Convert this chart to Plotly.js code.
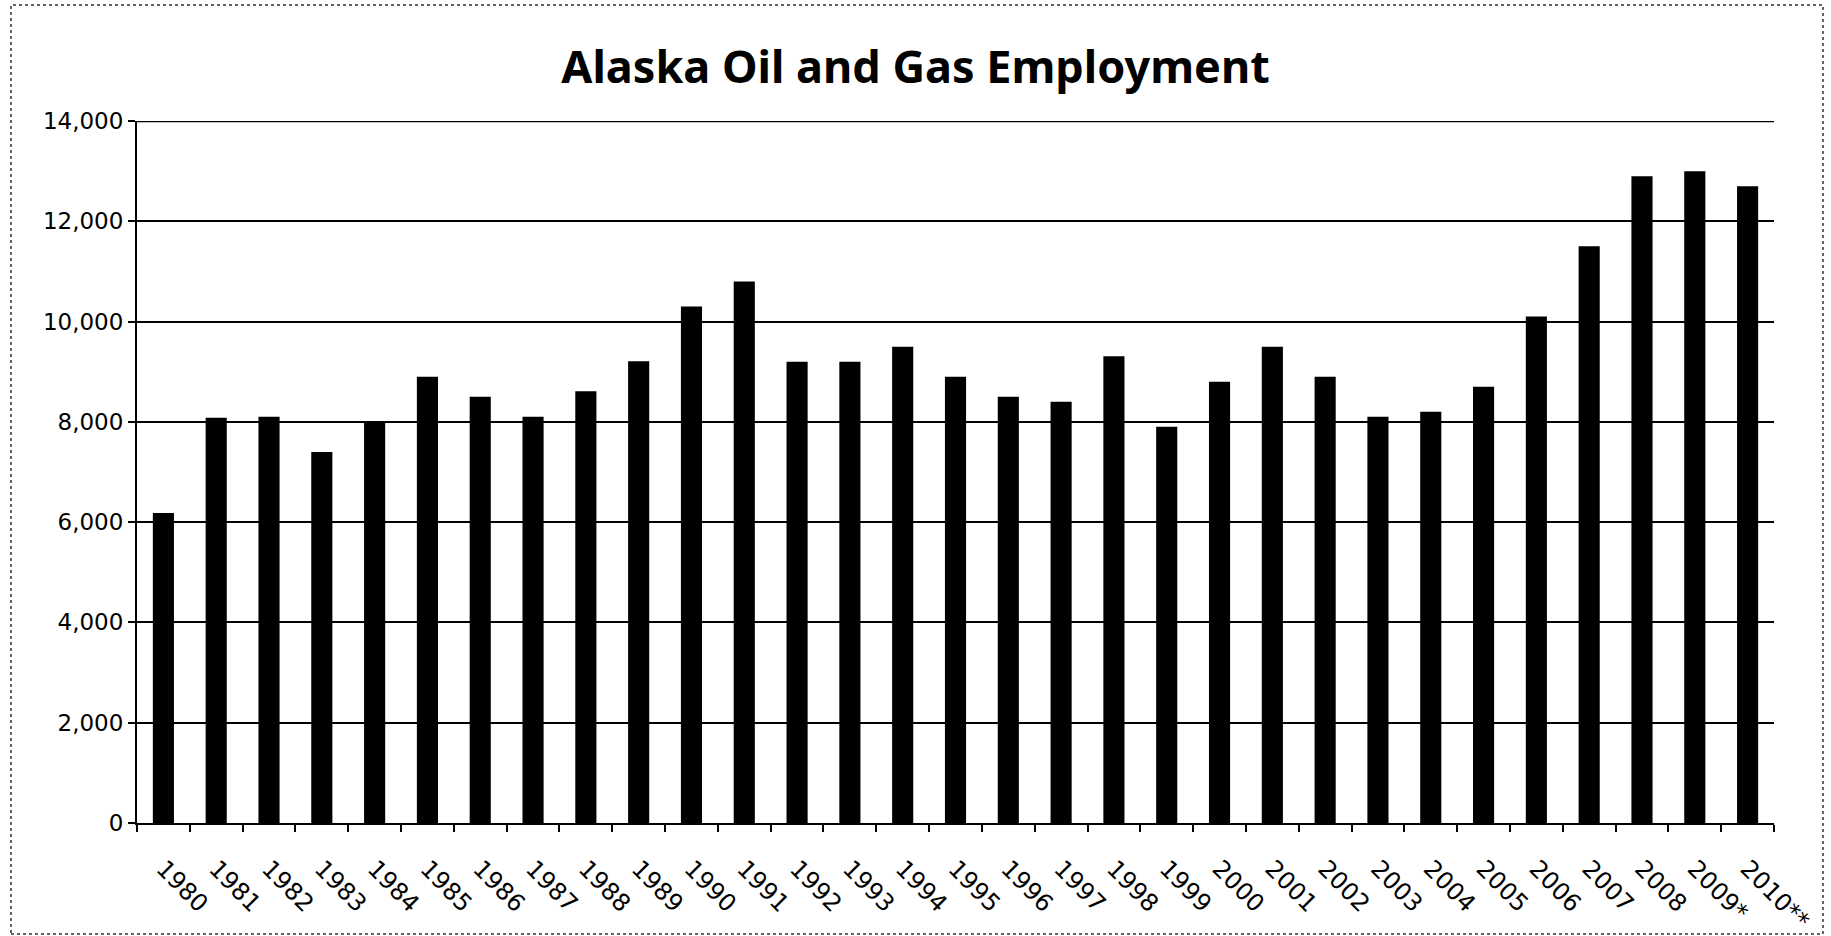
<!DOCTYPE html>
<html>
<head>
<meta charset="utf-8">
<script src="https://cdn.plot.ly/plotly-3.0.1.min.js"></script>
<style>html,body{margin:0;padding:0;background:#fff;}#chart{width:1831px;height:936px;}</style>
</head>
<body>
<div id="chart"></div>
<script>
const years = ['1980','1981','1982','1983','1984','1985','1986','1987','1988','1989','1990','1991','1992','1993','1994','1995','1996','1997','1998','1999','2000','2001','2002','2003','2004','2005','2006','2007','2008','2009*','2010**'];
const employment = [6180, 8080, 8100, 7400, 8000, 8900, 8500, 8100, 8610, 9210, 10300, 10800, 9200, 9200, 9500, 8900, 8500, 8400, 9310, 7900, 8800, 9500, 8900, 8100, 8200, 8700, 10100, 11500, 12900, 13000, 12700];
const yTicks = [0, 2000, 4000, 6000, 8000, 10000, 12000, 14000];

const W = 1831, H = 936;
const m = {l: 137, r: 57, t: 121, b: 113};
const pw = W - m.l - m.r, ph = H - m.t - m.b;
function px2x(p){ return (p - m.l) / pw; }
function px2y(p){ return (H - m.b - p) / ph; }

const axisFont = {family: 'DejaVu Sans, sans-serif', size: 23, color: '#000'};
const yMax = yTicks[yTicks.length - 1];

Plotly.newPlot('chart', [{
  type: 'bar',
  x: years,
  y: employment,
  marker: {color: '#000', line: {width: 0}},
  hoverinfo: 'x+y'
}], {
  width: W, height: H,
  margin: m,
  paper_bgcolor: '#fff',
  plot_bgcolor: '#fff',
  bargap: 0.6,
  showlegend: false,
  title: {
    text: '<b>Alaska Oil and Gas Employment</b>',
    font: {family: 'Noto Sans, sans-serif', size: 45, color: '#000'},
    x: 0.5, xref: 'container', xanchor: 'center',
    y: 1 - 67 / H, yref: 'container', yanchor: 'middle'
  },
  xaxis: {
    type: 'category',
    tickangle: 45,
    tickson: 'boundaries',
    ticks: 'outside', ticklen: 7, tickwidth: 2, tickcolor: '#000',
    ticklabelstandoff: 20,
    showline: true, linecolor: '#000', linewidth: 2,
    showgrid: false,
    tickfont: {family: 'DejaVu Sans, sans-serif', size: 24, color: '#000'}
  },
  yaxis: {
    range: [0, yMax],
    tickvals: yTicks,
    tickformat: ',d',
    ticks: 'outside', ticklen: 7, tickwidth: 2, tickcolor: '#000',
    showline: true, linecolor: '#000', linewidth: 2,
    showgrid: true, gridcolor: '#000', gridwidth: 2,
    zeroline: false,
    tickfont: axisFont
  },
  shapes: [{
    type: 'line', xref: 'paper', yref: 'y',
    x0: 0, x1: 1, y0: yMax, y1: yMax,
    line: {color: '#000', width: 2.5}
  }, {
    type: 'rect', xref: 'paper', yref: 'paper',
    x0: px2x(11), x1: px2x(1823), y0: px2y(934), y1: px2y(5),
    line: {color: '#333', width: 1.5, dash: 'dot'},
    fillcolor: 'rgba(0,0,0,0)', layer: 'below'
  }]
}, {displayModeBar: false, staticPlot: true});
</script>
</body>
</html>
